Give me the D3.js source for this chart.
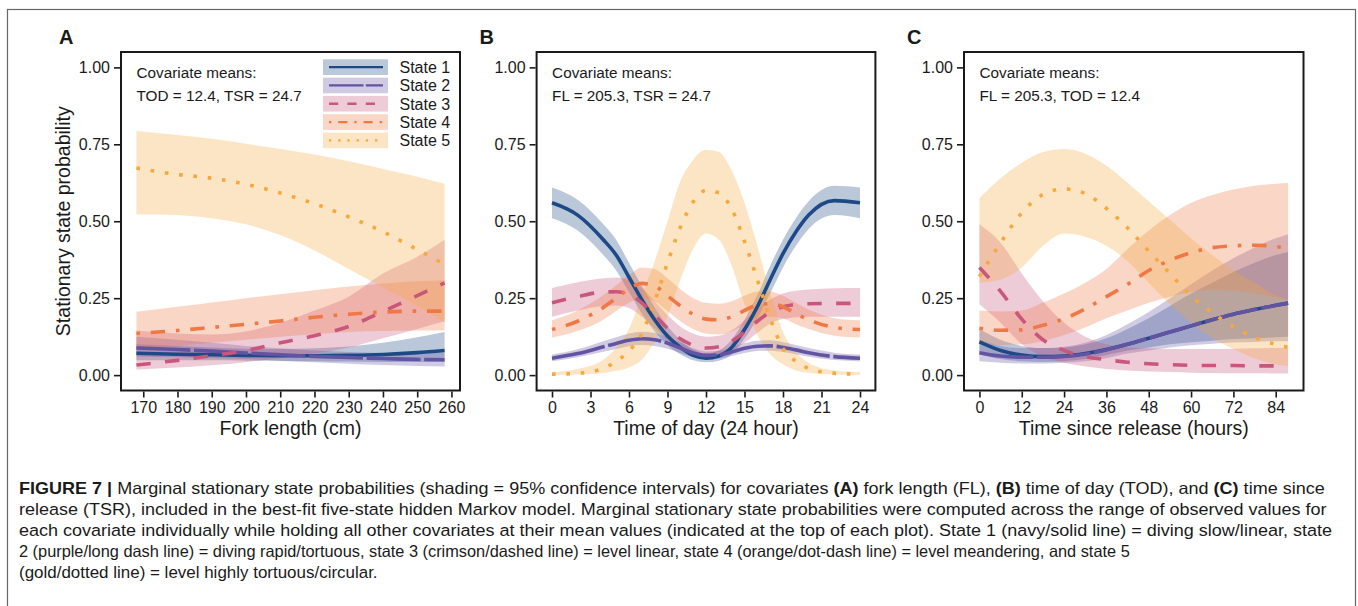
<!DOCTYPE html>
<html>
<head>
<meta charset="utf-8">
<script src="https://cdn.jsdelivr.net/npm/d3@7"></script>
<style>
  body { margin: 0; background: #fff; }
  text { font-family: "Liberation Sans", Arial, Helvetica, sans-serif; fill: #1a1a1a; }
</style>
</head>
<body>
<svg id="fig" width="1358" height="606"></svg>
<script>
// ---- data ----
// panel A: fork length (cm)
const flX    = [168, 180, 190, 200, 210, 220, 230, 240, 250, 258];
const flS1   = [.071, .068, .066, .064, .063, .063, .064, .067, .073, .080];
const flS1Lo = [.048, .048, .048, .047, .046, .045, .044, .043, .043, .043];
const flS1Hi = [.100, .095, .090, .086, .085, .087, .093, .105, .123, .140];
const flS2   = [.088, .083, .078, .072, .066, .061, .057, .054, .051, .050];
const flS2Lo = [.060, .058, .055, .052, .047, .042, .037, .033, .030, .028];
const flS2Hi = [.125, .115, .105, .095, .087, .080, .075, .072, .072, .073];
const flS3   = [.033, .048, .063, .080, .105, .128, .158, .207, .258, .300];
const flS3Lo = [.018, .025, .032, .042, .055, .070, .090, .120, .150, .175];
const flS3Hi = [.145, .135, .132, .142, .170, .210, .255, .330, .385, .440];
const flS4   = [.135, .145, .155, .165, .176, .188, .198, .205, .208, .208];
const flS4Lo = [.085, .095, .105, .115, .125, .133, .140, .143, .145, .145];
const flS4Hi = [.206, .222, .236, .250, .263, .276, .288, .298, .305, .308];
const flS5   = [.673, .652, .640, .620, .592, .557, .514, .466, .408, .360];
const flS5Lo = [.523, .520, .510, .490, .455, .405, .345, .285, .225, .172];
const flS5Hi = [.793, .780, .768, .752, .735, .717, .695, .670, .645, .622];

// panel B: time of day (24 hour)
const todX    = [0, 2, 4, 5, 6, 7, 8, 9, 10, 11, 12, 13, 14, 15, 16, 17, 18, 19, 20, 22, 24];
const todS1   = [.560, .520, .440, .390, .318, .245, .180, .127, .090, .064, .055, .062, .090, .148, .222, .310, .395, .465, .520, .567, .560];
const todS1Lo = [.510, .470, .390, .340, .270, .200, .142, .097, .068, .048, .042, .047, .068, .118, .185, .265, .350, .420, .475, .520, .510];
const todS1Hi = [.610, .570, .490, .440, .365, .290, .220, .160, .115, .083, .070, .080, .115, .180, .260, .355, .440, .510, .565, .615, .610];
const todS2   = [.055, .070, .092, .103, .113, .118, .115, .104, .088, .072, .064, .066, .075, .087, .094, .095, .090, .082, .073, .060, .055];
const todS2Lo = [.045, .058, .076, .085, .094, .098, .095, .086, .072, .059, .052, .054, .062, .072, .078, .079, .075, .068, .060, .049, .045];
const todS2Hi = [.067, .084, .110, .123, .135, .141, .137, .124, .106, .087, .077, .079, .090, .104, .112, .113, .107, .098, .088, .073, .067];
const todS3   = [.235, .255, .270, .271, .262, .235, .195, .152, .118, .097, .088, .092, .110, .140, .175, .205, .222, .230, .232, .233, .233];
const todS3Lo = [.190, .210, .225, .226, .218, .190, .153, .113, .084, .067, .061, .064, .079, .105, .138, .167, .182, .188, .190, .190, .190];
const todS3Hi = [.283, .302, .315, .317, .308, .282, .240, .195, .158, .135, .125, .128, .145, .178, .215, .245, .265, .274, .278, .282, .283];
const todS4   = [.148, .175, .220, .250, .280, .298, .290, .258, .225, .198, .182, .180, .190, .210, .228, .232, .222, .200, .180, .155, .148];
const todS4Lo = [.122, .143, .180, .208, .235, .250, .240, .208, .175, .150, .135, .132, .142, .163, .185, .190, .185, .165, .150, .128, .122];
const todS4Hi = [.178, .210, .260, .292, .325, .350, .345, .315, .280, .250, .235, .232, .240, .258, .272, .272, .258, .235, .213, .185, .178];
const todS5   = [.003, .006, .022, .045, .078, .135, .240, .365, .480, .563, .600, .592, .540, .435, .310, .185, .087, .045, .022, .006, .003];
const todS5Lo = [.0005, .002, .007, .014, .025, .050, .110, .190, .310, .410, .460, .440, .355, .230, .130, .068, .035, .015, .008, .002, .0005];
const todS5Hi = [.010, .020, .050, .090, .150, .260, .370, .500, .630, .700, .732, .725, .665, .560, .420, .270, .140, .075, .040, .015, .010];

// panel C: time since release (hours)
const tsrX    = [0, 6, 12, 18, 24, 30, 36, 42, 48, 54, 60, 66, 72, 78, 84, 87.5];
const tsrS1   = [.108, .080, .065, .060, .062, .070, .083, .100, .120, .140, .160, .180, .198, .213, .227, .234];
const tsrS1Lo = [.068, .052, .045, .043, .045, .052, .065, .080, .090, .100, .107, .112, .117, .120, .123, .125];
const tsrS1Hi = [.150, .115, .095, .088, .090, .100, .120, .150, .185, .225, .265, .300, .335, .365, .390, .400];
const tsrS2   = [.073, .062, .058, .058, .061, .068, .082, .100, .120, .140, .160, .180, .198, .213, .226, .234];
const tsrS2Lo = [.045, .040, .038, .038, .040, .045, .055, .070, .080, .090, .097, .102, .106, .108, .110, .110];
const tsrS2Hi = [.115, .095, .088, .088, .092, .105, .130, .165, .205, .250, .295, .340, .380, .415, .445, .458];
const tsrS3   = [.350, .272, .182, .115, .080, .060, .050, .042, .037, .034, .032, .031, .031, .030, .030, .030];
const tsrS3Lo = [.230, .170, .100, .060, .040, .028, .020, .015, .012, .010, .008, .007, .006, .006, .005, .005];
const tsrS3Hi = [.490, .430, .330, .240, .170, .125, .100, .090, .087, .085, .085, .085, .086, .087, .088, .088];
const tsrS4   = [.152, .146, .147, .162, .183, .215, .255, .295, .340, .373, .398, .414, .420, .422, .418, .412];
const tsrS4Lo = [.100, .098, .100, .110, .130, .155, .185, .210, .235, .255, .270, .277, .275, .265, .252, .243];
const tsrS4Hi = [.210, .207, .210, .235, .265, .300, .345, .410, .470, .520, .560, .585, .603, .615, .622, .624];
const tsrS5   = [.320, .430, .527, .587, .605, .590, .542, .478, .403, .330, .258, .203, .157, .123, .100, .090];
const tsrS5Lo = [.300, .310, .350, .420, .460, .450, .420, .370, .300, .230, .170, .120, .085, .055, .035, .030];
const tsrS5Hi = [.575, .640, .690, .725, .735, .720, .680, .625, .565, .505, .445, .390, .340, .300, .260, .244];

const stateNames = ["State 1", "State 2", "State 3", "State 4", "State 5"];
const yTicks = [0, 0.25, 0.5, 0.75, 1];

// ---- styles ----
const colors = ["#1d4a86", "#6353a3", "#c8577b", "#ef7845", "#f6a83b"];
const lwd = 3.6;
const dashUnits = [null, [15, 1], [4, 4], [1, 3, 4, 3], [1, 3]];

const svg = d3.select("#fig");

// figure frame
svg.append("rect")
    .attr("x", 7.5).attr("y", 9.5)
    .attr("width", 1348).attr("height", 640)
    .attr("fill", "none")
    .attr("stroke", "#666")
    .attr("stroke-width", 1.2);

const yTop = 52, yBot = 390.5;
const y = d3.scaleLinear().domain([-0.05, 1.05]).range([yBot, yTop]);

const panels = [
  { label: "A", left: 121, right: 460, xs: flX, domain: [163.5, 262.5],
    ticks: d3.range(170, 261, 10), title: "Fork length (cm)",
    means: ["Covariate means:", "TOD = 12.4, TSR = 24.7"],
    states: [[flS1, flS1Lo, flS1Hi], [flS2, flS2Lo, flS2Hi], [flS3, flS3Lo, flS3Hi], [flS4, flS4Lo, flS4Hi], [flS5, flS5Lo, flS5Hi]] },
  { label: "B", left: 536.6, right: 875.4, xs: todX, domain: [-1.2, 25.2],
    ticks: d3.range(0, 25, 3), title: "Time of day (24 hour)",
    means: ["Covariate means:", "FL = 205.3, TSR = 24.7"],
    states: [[todS1, todS1Lo, todS1Hi], [todS2, todS2Lo, todS2Hi], [todS3, todS3Lo, todS3Hi], [todS4, todS4Lo, todS4Hi], [todS5, todS5Lo, todS5Hi]] },
  { label: "C", left: 964, right: 1303.5, xs: tsrX, domain: [-4.375, 91.875],
    ticks: d3.range(0, 85, 12), title: "Time since release (hours)",
    means: ["Covariate means:", "FL = 205.3, TOD = 12.4"],
    states: [[tsrS1, tsrS1Lo, tsrS1Hi], [tsrS2, tsrS2Lo, tsrS2Hi], [tsrS3, tsrS3Lo, tsrS3Hi], [tsrS4, tsrS4Lo, tsrS4Hi], [tsrS5, tsrS5Lo, tsrS5Hi]] }
];

panels.forEach((p, pi) => {
  const x = d3.scaleLinear().domain(p.domain).range([p.left, p.right]);
  const g = svg.append("g");

  const rowsFor = s => p.xs.map((v, j) => ({ x: v, m: s[0][j], lo: s[1][j], hi: s[2][j] }));

  const area = d3.area()
      .x(d => x(d.x)).y0(d => y(d.lo)).y1(d => y(d.hi))
      .curve(d3.curveMonotoneX);
  const line = d3.line()
      .x(d => x(d.x)).y(d => y(d.m))
      .curve(d3.curveMonotoneX);

  // ribbons first, then the lines on top
  p.states.forEach((s, i) => {
    g.append("path").datum(rowsFor(s))
        .attr("d", area)
        .attr("fill", colors[i])
        .attr("fill-opacity", 0.3);
  });
  p.states.forEach((s, i) => {
    g.append("path").datum(rowsFor(s))
        .attr("d", line)
        .attr("fill", "none")
        .attr("stroke", colors[i])
        .attr("stroke-width", lwd)
        .attr("stroke-dasharray", dashUnits[i] ? dashUnits[i].map(u => u * lwd).join(",") : null);
  });

  // panel frame
  svg.append("rect")
      .attr("x", p.left).attr("y", yTop)
      .attr("width", p.right - p.left).attr("height", yBot - yTop)
      .attr("fill", "none")
      .attr("stroke", "#1a1a1a")
      .attr("stroke-width", 2);

  // axes
  const yAxis = svg.append("g")
      .attr("transform", `translate(${p.left - 1},0)`)
      .call(d3.axisLeft(y).tickValues(yTicks).tickFormat(d3.format(".2f")).tickSize(6).tickPadding(4));
  const xAxis = svg.append("g")
      .attr("transform", `translate(0,${yBot + 1})`)
      .call(d3.axisBottom(x).tickValues(p.ticks).tickSize(6).tickPadding(4));
  [yAxis, xAxis].forEach(a => {
    a.select(".domain").remove();
    a.selectAll(".tick line").attr("stroke", "#1a1a1a").attr("stroke-width", 1.6);
    a.selectAll(".tick text")
        .attr("fill", "#1a1a1a")
        .style("font-size", "16px")
        .style("font-family", '"Liberation Sans", Arial, sans-serif');
  });

  // axis title
  svg.append("text")
      .attr("x", (p.left + p.right) / 2).attr("y", 435)
      .attr("text-anchor", "middle")
      .style("font-size", "19.5px")
      .text(p.title);

  if (pi === 0) {
    svg.append("text")
        .attr("transform", `translate(69.5,${(yTop + yBot) / 2}) rotate(-90)`)
        .attr("text-anchor", "middle")
        .style("font-size", "19.5px")
        .text("Stationary state probability");
  }

  // panel letter
  svg.append("text")
      .attr("x", p.left - [62, 57, 57][pi]).attr("y", 43.5)
      .style("font-size", "20px")
      .style("font-weight", "bold")
      .text(p.label);

  // covariate means note
  p.means.forEach((t, k) => {
    svg.append("text")
        .attr("x", p.left + 15.5).attr("y", 78 + k * 22.5)
        .style("font-size", "15.3px")
        .text(t);
  });
});

// legend inside panel A
const leg = svg.append("g").attr("transform", "translate(323,59.3)");
const legLwd = 2.3;
stateNames.forEach((name, i) => {
  const r = leg.append("g").attr("transform", `translate(0,${i * 18.3})`);
  r.append("rect")
      .attr("width", 65).attr("height", 15.7)
      .attr("fill", colors[i]).attr("fill-opacity", 0.3);
  r.append("line")
      .attr("x1", 6).attr("x2", 60)
      .attr("y1", 7.85).attr("y2", 7.85)
      .attr("stroke", colors[i])
      .attr("stroke-width", legLwd)
      .attr("stroke-dasharray", dashUnits[i] ? dashUnits[i].map(u => u * legLwd).join(",") : null);
  r.append("text")
      .attr("x", 76.5).attr("y", 13.6)
      .style("font-size", "16px")
      .text(name);
});

// caption
const captionLines = [
  [["FIGURE 7 |", true], [" Marginal stationary state probabilities (shading = 95% confidence intervals) for covariates ", false],
   ["(A)", true], [" fork length (FL), ", false], ["(B)", true], [" time of day (TOD), and ", false], ["(C)", true], [" time since", false]],
  [["release (TSR), included in the best-fit five-state hidden Markov model. Marginal stationary state probabilities were computed across the range of observed values for", false]],
  [["each covariate individually while holding all other covariates at their mean values (indicated at the top of each plot). State 1 (navy/solid line) = diving slow/linear, state", false]],
  [["2 (purple/long dash line) = diving rapid/tortuous, state 3 (crimson/dashed line) = level linear, state 4 (orange/dot-dash line) = level meandering, and state 5", false]],
  [["(gold/dotted line) = level highly tortuous/circular.", false]]
];
// printed widths of each caption line (condensed face in the original)
const captionWidths = [1307, 1309, 1314, 1112, 359];
captionLines.forEach((parts, k) => {
  const t = svg.append("text")
      .attr("x", 0).attr("y", 0)
      .style("font-size", "16.5px")
      .attr("fill", "#231f20");
  parts.forEach(([s, b]) => {
    t.append("tspan").style("font-weight", b ? "bold" : "normal").text(s);
  });
  const w = t.node().getComputedTextLength();
  t.attr("transform", `translate(19,${493.5 + k * 21}) scale(${captionWidths[k] / w},1)`);
});
</script>
</body>
</html>
